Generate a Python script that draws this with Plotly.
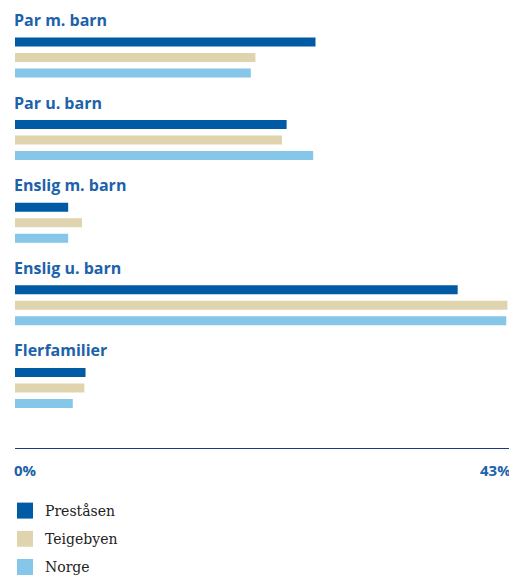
import plotly.graph_objects as go

categories = ["Par m. barn", "Par u. barn", "Enslig m. barn", "Enslig u. barn", "Flerfamilier"]
series_names = ["Preståsen", "Teigebyen", "Norge"]
prestasen = [26.0, 23.5, 4.6, 38.3, 6.1]
teigebyen = [20.8, 23.1, 5.8, 42.6, 6.0]
norge = [20.4, 25.8, 4.6, 42.5, 5.0]
series_values = [prestasen, teigebyen, norge]
colors = ["#005ba4", "#e0d4ae", "#85c6e9"]
axis_max = 43
tick_labels = ["0%", "43%"]

# page has an 8px body margin; figure size compensates
OFF = 8
W, H = 517 - OFF, 575 - OFF
plot_left, plot_right = 15, 512           # page pixel coords of plot area
plot_top, plot_bottom = OFF, 448
group_step = 82.6
title_off = 20
bar_offs = [42, 57.5, 73]
bar_h = 9

title_color = "#1c62ab"

fig = go.Figure()
for j, (name, vals) in enumerate(zip(series_names, series_values)):
    ys = [i * group_step + bar_offs[j] for i in range(len(categories))]
    fig.add_trace(go.Bar(
        x=vals, y=ys, orientation="h", width=bar_h,
        marker=dict(color=colors[j], line=dict(width=0)),
        name=name, showlegend=False, hoverinfo="x+name",
    ))
    fig.add_trace(go.Scatter(
        x=[None], y=[None], mode="markers", name=name,
        marker=dict(symbol="square", size=18, color=colors[j]),
        legendgroup=name,
    ))

annotations = []
for i, c in enumerate(categories):
    annotations.append(dict(
        x=0, y=i * group_step + title_off, xref="x", yref="y",
        text="<b>" + c + "</b>", showarrow=False, xanchor="left", yanchor="middle", xshift=-3,
        font=dict(family="Open Sans", size=16, color=title_color),
    ))
tick_y = 1 - (470 - plot_top) / (plot_bottom - plot_top)
annotations.append(dict(x=0, y=tick_y, xref="x", yref="paper", text="<b>" + tick_labels[0] + "</b>",
                        showarrow=False, xanchor="left", yanchor="middle", xshift=-3,
                        font=dict(family="Open Sans", size=15, color=title_color)))
annotations.append(dict(x=axis_max, y=tick_y, xref="x", yref="paper", text="<b>" + tick_labels[1] + "</b>",
                        showarrow=False, xanchor="right", yanchor="middle", xshift=1,
                        font=dict(family="Open Sans", size=15, color=title_color)))

plot_w = plot_right - plot_left
fig.update_layout(
    width=W, height=H,
    margin=dict(l=plot_left - OFF, r=W - (plot_right - OFF), t=0, b=H - (plot_bottom - OFF),
                pad=0, autoexpand=False),
    plot_bgcolor="white", paper_bgcolor="white",
    barmode="overlay",
    xaxis=dict(range=[0, axis_max], showgrid=False, zeroline=False, showticklabels=False,
               showline=True, linecolor="#1a3a86", linewidth=1, fixedrange=True),
    yaxis=dict(range=[plot_bottom, plot_top], showgrid=False, zeroline=False,
               showticklabels=False, showline=False, fixedrange=True),
    annotations=annotations,
    showlegend=True,
    legend=dict(x=(5 - plot_left) / plot_w, y=(H - 487) / H, xref="paper", yref="container",
                xanchor="left", yanchor="top", orientation="v",
                traceorder="grouped", tracegroupgap=7,
                font=dict(family="DejaVu Serif", size=14, color="#222222"),
                bgcolor="rgba(0,0,0,0)", borderwidth=0),
)

fig.write_html("out.html")
